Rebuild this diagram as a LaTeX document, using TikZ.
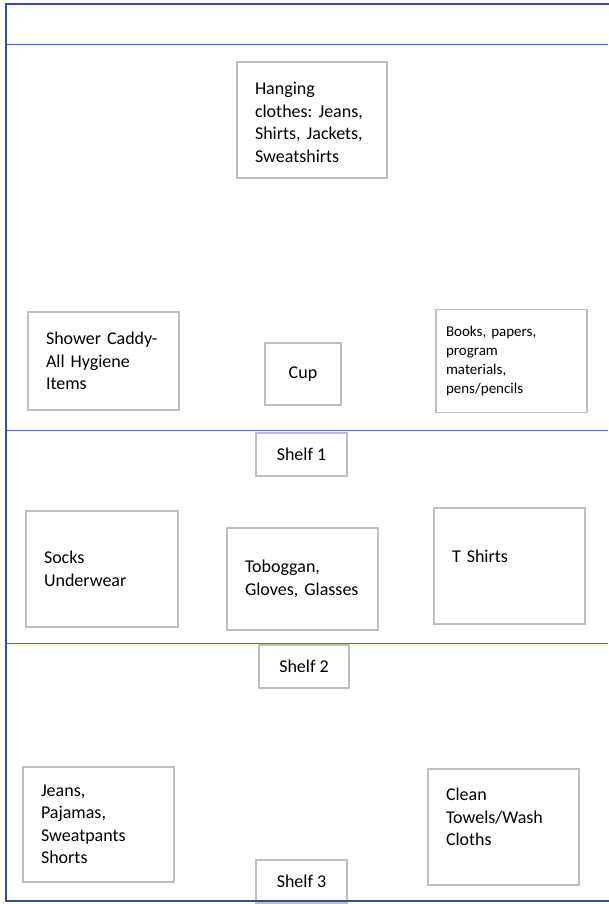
\documentclass[tikz,border=0pt]{standalone}
\usepackage{fontspec}
\setmainfont{Carlito}
\usepackage{tikz}
\usetikzlibrary{positioning}
\definecolor{frameblue}{HTML}{2F528F}
\definecolor{lineblue}{HTML}{4472C4}
\definecolor{boxgray}{HTML}{BFBFBF}
\frenchspacing

\begin{document}
\begin{tikzpicture}[
  x=1pt,y=-1pt,
  item/.style={draw=boxgray,line width=1.5pt,inner xsep=18pt,inner ysep=0pt,
    align=left,font=\fontsize{18}{22.5}\selectfont},
  small/.style={item,inner xsep=10pt,font=\fontsize{15}{19.3}\selectfont},
  shelf/.style={draw=boxgray,line width=1.5pt,inner sep=0pt,
    minimum width=91pt,minimum height=43pt,font=\fontsize{18}{22.5}\selectfont},
  divider/.style={draw=lineblue,line width=1pt},
  frame/.style={draw=frameblue,line width=2.5pt}
]
\useasboundingbox (0,0) rectangle (608,904);
\draw[divider] (6,45) -- (608,45);
\draw[divider] (6,430) -- (608,430);
\draw[divider] (6,643) -- (608,643);
\node[item,text width=114pt,minimum height=116pt,text depth=62.5pt] (hanging) at (312,120)
  {Hanging\\clothes: Jeans,\\Shirts, Jackets,\\Sweatshirts};
\node[item,text width=115pt,minimum height=98pt] (caddy) at (103.5,361)
  {Shower Caddy-\\All Hygiene\\Items};
\node[item,inner xsep=0pt,align=center,minimum width=76pt,minimum height=62pt] (cup) at (303,374) {Cup};
\node[small,text width=131pt,minimum height=103pt] (books) at (511.5,361)
  {Books, papers,\\program\\materials,\\pens/pencils};
\node[shelf] (shelf1) at (301.5,454.5) {Shelf 1};
\node[item,text width=116pt,minimum height=116pt] (socks) at (102,569)
  {Socks\\Underwear};
\node[item,text width=115pt,minimum height=102pt] (toboggan) at (302.5,579)
  {Toboggan,\\Gloves, Glasses};
\node[item,text width=115pt,minimum height=116pt,text depth=20pt] (tshirts) at (509.5,566)
  {T Shirts};
\node[shelf,minimum width=90pt] (shelf2) at (304,666.5) {Shelf 2};
\node[item,text width=115pt,minimum height=115pt] (jeans) at (98.5,824.5)
  {Jeans,\\Pajamas,\\Sweatpants\\Shorts};
\node[item,text width=115pt,minimum height=116pt,text depth=65pt] (towels) at (503.5,827)
  {Clean\\Towels/Wash\\Cloths};
\node[shelf] (shelf3) at (301.5,881.5) {Shelf 3};
\draw[frame] (612,4) -| (6,901) -- (612,901);
\end{tikzpicture}
\end{document}
